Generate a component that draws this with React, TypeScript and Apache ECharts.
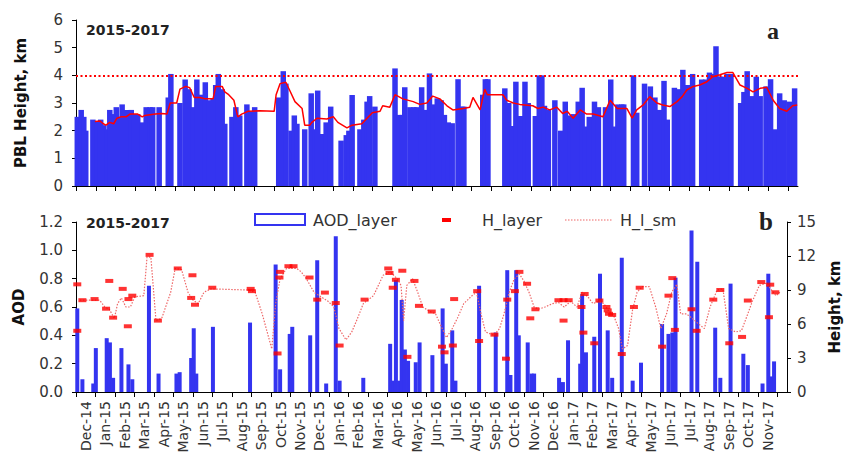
import React, { useEffect, useRef } from 'react';
import * as echarts from 'echarts';

// Month tick labels (each label sits in the middle of its month)
const monthLabels = [
  'Dec-14', 'Jan-15', 'Feb-15', 'Mar-15', 'Apr-15', 'May-15', 'Jun-15', 'Jul-15', 'Aug-15', 'Sep-15', 'Oct-15', 'Nov-15',
  'Dec-15', 'Jan-16', 'Feb-16', 'Mar-16', 'Apr-16', 'May-16', 'Jun-16', 'Jul-16', 'Aug-16', 'Sep-16', 'Oct-16', 'Nov-16',
  'Dec-16', 'Jan-17', 'Feb-17', 'Mar-17', 'Apr-17', 'May-17', 'Jun-17', 'Jul-17', 'Aug-17', 'Sep-17', 'Oct-17', 'Nov-17',
];

// Observations: [days since 1 Dec 2014, value]
// Panel a: PBL height, km
const pblHeight: [number, number][] = [
  [2, 2.5], [8, 2.75], [12, 2.5], [15, 2.0], [26, 2.4], [32, 2.35], [38, 2.4], [43, 2.2], [48, 2.05], [52, 2.75],
  [57, 2.6], [62, 2.85], [66, 2.5], [71, 2.95], [78, 2.75], [85, 2.75], [89, 2.6], [95, 2.6], [102, 2.3], [108, 2.85],
  [114, 2.85], [118, 2.85], [128, 2.85], [142, 3.2], [146, 4.05], [160, 3.0], [168, 3.85], [174, 3.5], [180, 2.85], [186, 3.85],
  [192, 3.3], [199, 3.75], [205, 3.1], [211, 3.15], [215, 3.65], [219, 4.05], [225, 3.5], [229, 2.25], [240, 2.5], [246, 2.85],
  [252, 2.55], [263, 2.95], [269, 2.7], [275, 2.85], [312, 3.2], [319, 4.15], [323, 3.7], [331, 2.0], [336, 2.55], [340, 2.25],
  [352, 2.05], [362, 3.35], [368, 2.05], [372, 3.45], [379, 1.88], [385, 2.3], [392, 2.87], [408, 1.64], [416, 1.84], [420, 2.0],
  [425, 3.29], [437, 2.05], [443, 2.4], [448, 3.05], [452, 3.25], [460, 2.87], [491, 4.25], [497, 2.57], [502, 2.57], [506, 3.57],
  [514, 2.85], [520, 2.85], [524, 2.85], [532, 3.57], [538, 2.75], [544, 4.07], [550, 2.95], [556, 3.17], [562, 3.1], [567, 2.57],
  [573, 2.3], [579, 2.27], [588, 3.86], [594, 2.87], [597, 2.87], [626, 3.3], [630, 3.86], [634, 3.86], [660, 3.53], [666, 3.0],
  [671, 2.17], [677, 3.77], [684, 2.53], [691, 3.77], [696, 3.0], [707, 2.53], [713, 4.0], [717, 4.0], [721, 2.9], [727, 2.75],
  [737, 3.1], [746, 2.0], [753, 3.05], [760, 2.55], [766, 2.6], [773, 3.05], [779, 3.55], [784, 2.15], [790, 2.5], [798, 3.05],
  [804, 2.85], [815, 2.85], [823, 3.85], [829, 2.15], [834, 2.95], [840, 2.95], [843, 2.95], [858, 4.0], [863, 2.65], [875, 3.7],
  [884, 3.6], [891, 3.2], [898, 2.75], [905, 3.8], [910, 2.4], [921, 3.55], [928, 3.5], [934, 4.2], [941, 3.65], [949, 4.05],
  [963, 3.85], [969, 3.85], [975, 4.1], [980, 4.05], [985, 5.05], [992, 3.95], [995, 3.95], [1002, 4.05], [1008, 4.05], [1023, 3.0],
  [1028, 3.4], [1033, 4.15], [1040, 3.25], [1047, 3.95], [1053, 3.25], [1062, 3.6], [1069, 3.86], [1076, 2.05], [1083, 3.35], [1090, 3.1],
  [1098, 3.05], [1106, 3.53],
];

// Panel a: smoothed PBL height, km
const pblSmoothed: [number, number][] = [
  [29, 2.33], [37, 2.35], [42, 2.25], [46, 2.2], [52, 2.3], [58, 2.25], [63, 2.45], [69, 2.5], [77, 2.5], [83, 2.6],
  [95, 2.6], [102, 2.5], [106, 2.55], [122, 2.6], [132, 2.62], [140, 2.6], [145, 3.0], [155, 3.0], [160, 3.5], [169, 3.6],
  [175, 3.55], [182, 3.2], [191, 3.2], [199, 3.15], [211, 3.15], [215, 3.6], [225, 3.6], [229, 3.4], [235, 3.3], [243, 3.1],
  [249, 2.5], [255, 2.6], [265, 2.7], [283, 2.72], [305, 2.7], [308, 3.3], [314, 3.7], [323, 3.75], [329, 3.45], [337, 3.05],
  [348, 2.8], [352, 2.2], [360, 2.2], [363, 2.3], [371, 2.45], [386, 2.42], [396, 2.5], [403, 2.3], [417, 2.1], [425, 2.2],
  [440, 2.25], [448, 2.45], [456, 2.65], [468, 2.7], [472, 2.9], [483, 2.85], [491, 3.3], [503, 3.15], [519, 3.05], [529, 2.95],
  [540, 3.0], [549, 3.25], [560, 3.15], [571, 2.9], [580, 2.75], [596, 2.8], [606, 2.85], [611, 3.2], [622, 2.75], [629, 3.5],
  [633, 3.3], [657, 3.3], [663, 3.1], [673, 3.0], [683, 2.95], [703, 2.9], [711, 2.8], [719, 2.85], [729, 2.75], [740, 2.85],
  [749, 2.62], [756, 2.7], [765, 2.45], [776, 2.75], [786, 2.6], [796, 2.6], [811, 2.5], [822, 3.1], [833, 2.8], [848, 2.8],
  [856, 2.45], [863, 2.75], [873, 2.93], [883, 3.23], [894, 3.0], [903, 2.93], [914, 2.87], [925, 3.05], [933, 3.23], [940, 3.47],
  [950, 3.6], [960, 3.65], [971, 3.77], [980, 3.95], [991, 4.02], [1002, 4.1], [1011, 4.1], [1022, 3.65], [1033, 3.53], [1042, 3.4],
  [1053, 3.53], [1063, 3.57], [1073, 3.1], [1083, 2.8], [1094, 2.7], [1103, 2.9], [1110, 2.93],
];
const pblThreshold = 4;

// Panel b: AOD of the layer
const aodLayer: [number, number][] = [
  [2, 0.59], [10, 0.09], [27, 0.06], [31, 0.31], [48, 0.38], [53, 0.35], [58, 0.1], [71, 0.31], [82, 0.195], [88, 0.09],
  [114, 0.75], [129, 0.13], [157, 0.13], [162, 0.14], [180, 0.24], [184, 0.45], [188, 0.13], [214, 0.46], [272, 0.49], [312, 0.9],
  [319, 0.16], [334, 0.41], [338, 0.46], [366, 0.4], [377, 0.93], [391, 0.06], [406, 1.1], [412, 0.08], [449, 0.1], [491, 0.34],
  [496, 0.08], [500, 0.79], [505, 0.08], [509, 0.65], [514, 0.3], [519, 0.22], [531, 0.21], [537, 0.35], [557, 0.26], [573, 0.59],
  [578, 0.2], [588, 0.435], [593, 0.08], [630, 0.75], [656, 0.42], [674, 0.86], [679, 0.12], [688, 0.86], [692, 0.4], [706, 0.35],
  [712, 0.13], [716, 0.13], [755, 0.1], [761, 0.07], [769, 0.365], [788, 0.2], [791, 0.69], [797, 0.28], [810, 0.39], [819, 0.835],
  [831, 0.435], [838, 0.1], [853, 0.948], [870, 0.08], [883, 0.207], [916, 0.48], [926, 0.41], [932, 0.42], [937, 0.807], [962, 1.14],
  [971, 0.92], [999, 0.454], [1007, 0.1], [1023, 0.765], [1043, 0.27], [1050, 0.19], [1073, 0.06], [1082, 0.835], [1087, 0.11], [1091, 0.216],
];

// Panel b: layer height, km
const hLayer: [number, number][] = [
  [2, 9.5], [2, 5.4], [10, 8.1], [29, 8.2], [47, 7.35], [52, 9.8], [58, 6.56], [73, 9.1], [81, 5.8], [82, 8.2],
  [88, 8.5], [115, 12.1], [128, 6.3], [159, 10.9], [182, 10.3], [180, 8.3], [186, 7.7], [213, 9.2], [273, 9.1], [275, 8.9],
  [315, 3.4], [318, 10.1], [319, 10.6], [332, 11.1], [340, 11.1], [365, 10.1], [377, 8.15], [389, 8.77], [406, 7.85], [412, 4.1],
  [451, 8.15], [488, 10.9], [490, 10.5], [495, 9.2], [500, 9.9], [510, 10.7], [518, 3.1], [529, 9.8], [536, 7.6], [556, 7.1],
  [572, 4.0], [576, 3.5], [589, 4.1], [591, 8.2], [627, 8.9], [630, 4.5], [654, 5.06], [672, 2.94], [674, 8.15], [686, 8.9],
  [693, 10.6], [705, 9.55], [710, 6.5], [718, 7.3], [754, 8.1], [762, 8.1], [770, 8.1], [762, 6.3], [790, 7.5], [795, 8.65],
  [793, 5.24], [810, 4.3], [818, 8.07], [829, 7.5], [831, 7.2], [833, 6.9], [838, 6.8], [853, 3.35], [872, 7.5], [881, 9.2],
  [916, 4.0], [926, 8.5], [932, 10.05], [936, 5.48], [962, 7.3], [970, 5.4], [996, 8.15], [1007, 9.0], [1021, 4.3], [1041, 4.86],
  [1050, 8.07], [1071, 9.7], [1085, 9.47], [1083, 6.6], [1093, 8.8],
];

// Panel b: smoothed layer height, km
const hLayerSmoothed: [number, number][] = [
  [6, 8.1], [37, 8.1], [45, 7.5], [52, 7.3], [60, 6.5], [65, 7.8], [71, 8.3], [78, 7.5], [85, 7.5], [92, 8.4],
  [106, 8.5], [111, 11.9], [117, 11.9], [125, 6.3], [134, 6.5], [148, 8.8], [155, 10.9], [165, 10.8], [175, 8.8], [183, 8.1],
  [191, 7.8], [200, 8.8], [211, 9.1], [268, 9.0], [280, 8.8], [291, 6.9], [306, 3.8], [312, 7.8], [319, 10.0], [329, 10.9],
  [345, 10.9], [352, 10.6], [360, 10.0], [372, 8.8], [383, 8.4], [394, 8.0], [403, 7.5], [411, 5.6], [422, 4.6], [431, 5.3],
  [440, 6.5], [449, 7.8], [465, 8.5], [480, 10.3], [491, 10.6], [502, 10.0], [508, 9.4], [512, 6.3], [517, 9.4], [526, 10.0],
  [534, 8.8], [542, 7.5], [553, 7.1], [562, 6.9], [569, 6.0], [579, 4.8], [588, 5.6], [596, 6.5], [606, 7.8], [619, 8.5],
  [626, 8.8], [633, 6.9], [640, 5.3], [653, 5.0], [662, 5.6], [669, 6.9], [677, 8.8], [685, 10.0], [693, 10.4], [700, 9.8],
  [708, 8.8], [716, 7.5], [723, 7.3], [733, 7.5], [745, 7.8], [754, 7.9], [763, 7.5], [773, 8.0], [783, 7.5], [791, 8.8],
  [800, 8.4], [808, 7.8], [817, 8.0], [825, 7.8], [833, 7.1], [840, 6.8], [848, 5.6], [854, 3.8], [862, 4.1], [870, 7.3],
  [877, 8.8], [885, 9.3], [896, 9.3], [906, 7.5], [914, 5.6], [923, 6.9], [931, 8.8], [939, 9.5], [945, 6.9], [954, 6.9],
  [963, 6.5], [973, 6.0], [982, 5.6], [991, 7.5], [1002, 9.0], [1011, 9.1], [1020, 5.6], [1031, 5.3], [1040, 5.4], [1050, 6.9],
  [1057, 8.0], [1068, 9.4], [1079, 9.6], [1087, 9.0], [1094, 8.5], [1100, 8.8],
];

const DAYS_PER_MONTH = 1096 / 36; // 1 Dec 2014 .. 1 Dec 2017 = 36 months
const toMonth = (pts: [number, number][]) => pts.map(([d, v]) => [d / DAYS_PER_MONTH, v]);
const monthStarts = Array.from({ length: monthLabels.length + 1 }, (_, i) => i);
const monthMiddles = monthLabels.map((_, i) => i + 0.5);

const FONT = 'DejaVu Sans';
const BLUE = '#3434f0';
const RED = '#ff0000';
const PINK = '#ee6666';
const AXIS = '#000000';
const LABEL = '#333333';

const tickLabel = { fontFamily: FONT, fontSize: 15, color: LABEL };
const axisName = { fontFamily: FONT, fontSize: 15, fontWeight: 'bold', color: '#111' };

function buildOption(): any {
  const dataX = (gridIndex: number, withLabels: boolean) => ({
    gridIndex,
    type: 'value',
    min: 0,
    max: 36.5,
    interval: 1,
    axisLine: { show: true, onZero: false, lineStyle: { color: AXIS, width: 1 } },
    axisTick: { show: true, length: 5, lineStyle: { color: AXIS }, customValues: monthStarts },
    axisLabel: withLabels
      ? {
          show: true,
          customValues: monthMiddles,
          rotate: 90,
          margin: 9,
          fontFamily: FONT,
          fontSize: 14,
          color: LABEL,
          formatter: (v: number) => {
            const i = Math.floor(v + 1e-6);
            return i >= 0 && i < monthLabels.length ? monthLabels[i] : '';
          },
        }
      : { show: false },
    splitLine: { show: false },
  });
  return {
    animation: false,
    backgroundColor: '#ffffff',
    grid: [
      { left: 76, right: 52, top: 20, height: 166 },
      { left: 76, right: 52, top: 222, height: 170 },
    ],
    xAxis: [dataX(0, false), dataX(1, true)],
    yAxis: [
      {
        gridIndex: 0,
        type: 'value',
        min: 0,
        max: 6,
        interval: 1,
        name: 'PBL Height, km',
        nameLocation: 'middle',
        nameGap: 48,
        nameTextStyle: axisName,
        axisLine: { show: true, lineStyle: { color: AXIS } },
        axisTick: { show: true, length: 4, lineStyle: { color: AXIS } },
        axisLabel: { ...tickLabel, margin: 13 },
        splitLine: { show: false },
      },
      {
        gridIndex: 1,
        type: 'value',
        min: 0,
        max: 1.2,
        interval: 0.2,
        name: 'AOD',
        nameLocation: 'middle',
        nameGap: 50,
        nameTextStyle: axisName,
        axisLine: { show: true, lineStyle: { color: AXIS } },
        axisTick: { show: true, length: 4, lineStyle: { color: AXIS } },
        axisLabel: { ...tickLabel, margin: 13, formatter: (v: number) => v.toFixed(1) },
        splitLine: { show: false },
      },
      {
        gridIndex: 1,
        type: 'value',
        position: 'right',
        min: 0,
        max: 15,
        interval: 3,
        name: 'Height, km',
        nameLocation: 'middle',
        nameGap: 40,
        nameTextStyle: axisName,
        axisLine: { show: true, lineStyle: { color: AXIS } },
        axisTick: { show: true, length: 4, lineStyle: { color: AXIS } },
        axisLabel: { ...tickLabel, margin: 10 },
        splitLine: { show: false },
      },
    ],
    series: [
      {
        name: 'PBL',
        type: 'bar',
        xAxisIndex: 0,
        yAxisIndex: 0,
        barWidth: 5.5,
        itemStyle: { color: BLUE },
        data: toMonth(pblHeight),
        markLine: {
          silent: true,
          symbol: 'none',
          label: { show: false },
          lineStyle: { color: RED, type: [2, 2.5], width: 2 },
          data: [{ yAxis: pblThreshold }],
        },
        z: 2,
      },
      {
        name: 'PBL_sm',
        type: 'line',
        xAxisIndex: 0,
        yAxisIndex: 0,
        showSymbol: false,
        symbol: 'none',
        lineStyle: { color: RED, width: 1.5 },
        data: toMonth(pblSmoothed),
        z: 3,
      },
      {
        name: 'AOD_layer',
        type: 'bar',
        xAxisIndex: 1,
        yAxisIndex: 1,
        barWidth: 4,
        itemStyle: { color: BLUE },
        data: toMonth(aodLayer),
        z: 2,
      },
      {
        name: 'H_l_sm',
        type: 'line',
        xAxisIndex: 1,
        yAxisIndex: 2,
        showSymbol: false,
        symbol: 'none',
        lineStyle: { color: PINK, width: 1.2, type: [1.5, 1.5] },
        data: toMonth(hLayerSmoothed),
        z: 3,
      },
      {
        name: 'H_layer',
        type: 'scatter',
        xAxisIndex: 1,
        yAxisIndex: 2,
        symbol: 'rect',
        symbolSize: [8, 4],
        itemStyle: { color: RED },
        data: toMonth(hLayer),
        z: 4,
      },
    ],
    graphic: [
      { type: 'text', left: 86, top: 23, style: { text: '2015-2017', fontFamily: FONT, fontSize: 14, fontWeight: 'bold', fill: '#222' } },
      { type: 'text', left: 86, top: 216, style: { text: '2015-2017', fontFamily: FONT, fontSize: 14, fontWeight: 'bold', fill: '#222' } },
      { type: 'text', left: 767, top: 19, style: { text: 'a', fontFamily: 'Liberation Serif', fontSize: 24, fontWeight: 'bold', fill: '#222' } },
      { type: 'text', left: 759, top: 209, style: { text: 'b', fontFamily: 'Liberation Serif', fontSize: 25, fontWeight: 'bold', fill: '#222' } },
      // legend
      { type: 'rect', shape: { x: 255, y: 214, width: 50, height: 11 }, style: { fill: '#ffffff', stroke: BLUE, lineWidth: 2 } },
      { type: 'text', x: 313, y: 220, style: { text: 'AOD_layer', fontFamily: FONT, fontSize: 16, fill: LABEL, verticalAlign: 'middle' } },
      { type: 'rect', shape: { x: 442, y: 218, width: 9, height: 4 }, style: { fill: RED } },
      { type: 'text', x: 482, y: 220, style: { text: 'H_layer', fontFamily: FONT, fontSize: 16, fill: LABEL, verticalAlign: 'middle' } },
      { type: 'line', shape: { x1: 565, y1: 220, x2: 613, y2: 220 }, style: { stroke: PINK, lineWidth: 1.2, lineDash: [1.5, 1.5] } },
      { type: 'text', x: 620, y: 220, style: { text: 'H_l_sm', fontFamily: FONT, fontSize: 16, fill: LABEL, verticalAlign: 'middle' } },
    ],
  };
}

export default function App() {
  const ref = useRef<HTMLDivElement>(null);
  useEffect(() => {
    if (!ref.current) return;
    const chart = echarts.init(ref.current, null, { renderer: 'svg' });
    chart.setOption(buildOption());
    return () => chart.dispose();
  }, []);
  return <div ref={ref} style={{ position: 'fixed', left: 0, top: 0, width: 850, height: 456, background: '#fff' }} />;
}
